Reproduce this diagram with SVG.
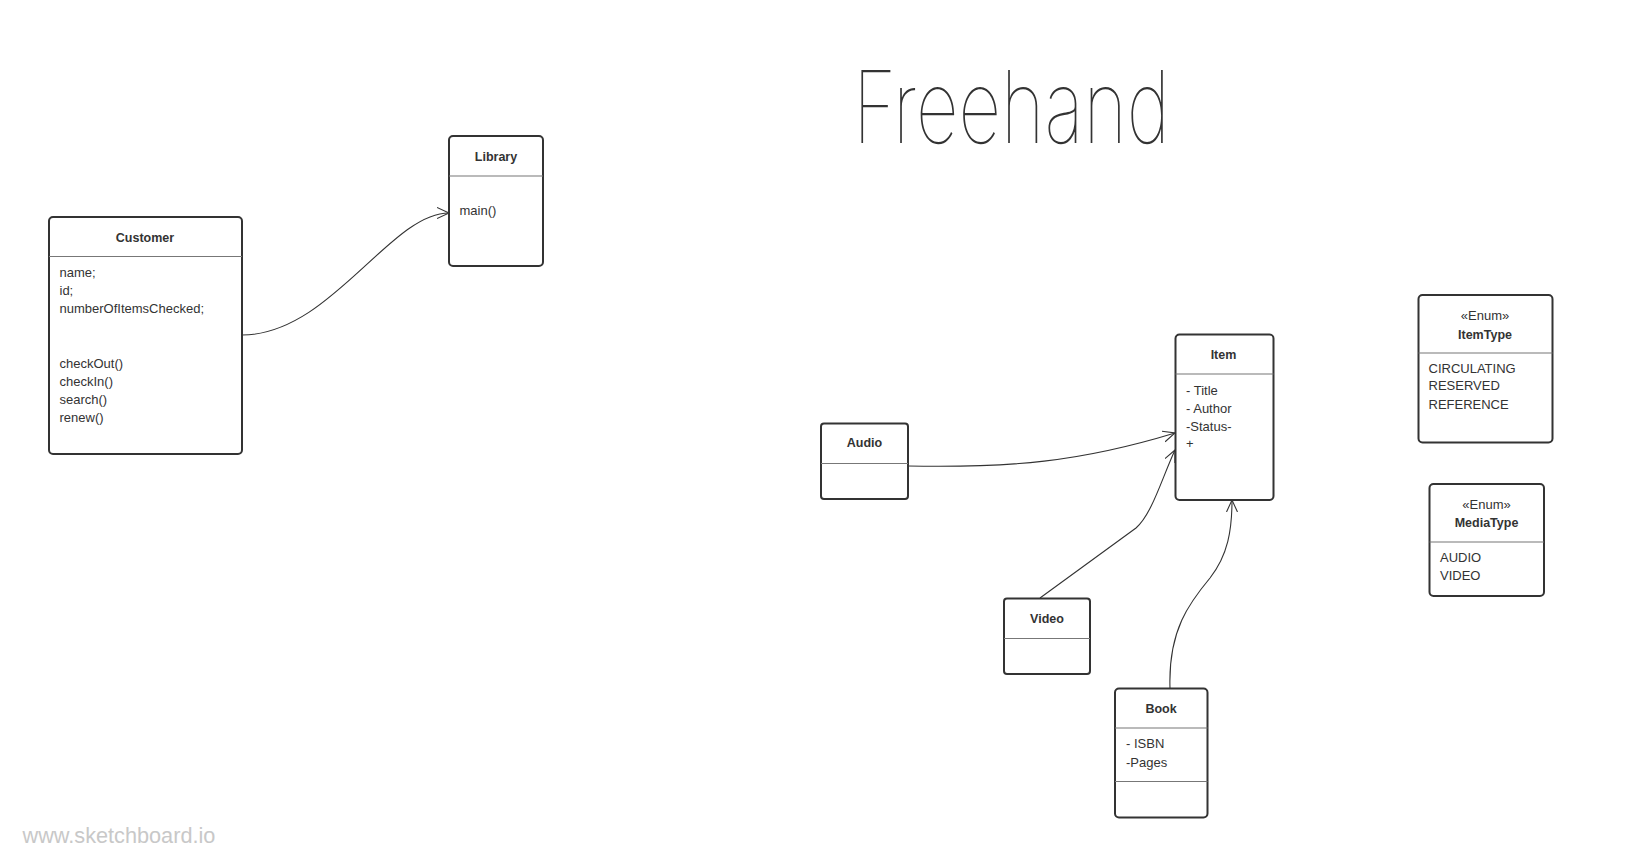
<svg xmlns="http://www.w3.org/2000/svg" width="1631" height="867" viewBox="0 0 1631 867">
<style>
.box{fill:#fff;stroke:#333;stroke-width:2}
.sep{stroke:#777;stroke-width:1.2}
.t{font-family:"Liberation Sans",Arial,sans-serif;font-size:13px;fill:#333}
.b{font-weight:bold;text-anchor:middle;font-size:12.5px}
.c{text-anchor:middle}
.conn{fill:none;stroke:#333;stroke-width:1.1}
</style>
<defs>
<marker id="open" markerUnits="userSpaceOnUse" markerWidth="14" markerHeight="14" refX="12" refY="6" orient="auto" viewBox="0 0 14 12">
<path d="M0,0.5 L12,6 L0,11.5" fill="none" stroke="#333" stroke-width="1.1"/>
</marker>
</defs>
<rect width="1631" height="867" fill="#fff"/>

<g id="freehand">
<text x="853" y="143" font-family="Inter,'DejaVu Sans',sans-serif" font-weight="100" font-size="100" fill="#333" textLength="317" lengthAdjust="spacingAndGlyphs">Freehand</text>
</g>

<g id="connectors">
<path class="conn" d="M242,335 C330,335 390,213 449,213" marker-end="url(#open)"/>
<path class="conn" d="M908,466 C1010,468 1080,462 1175,433" marker-end="url(#open)"/>
<path class="conn" d="M1040,598 L1136,528 C1152,514 1162,478 1175,450" marker-end="url(#open)"/>
<path class="conn" d="M1170,688 C1168,630 1190,602 1210,578 C1228,555 1232,530 1232,500" marker-end="url(#open)"/>
</g>

<g id="customer">
<rect class="box" x="49" y="217" width="193" height="237" rx="4"/>
<line class="sep" x1="49" y1="256.5" x2="242" y2="256.5"/>
<text class="t b" x="145" y="241.5">Customer</text>
<text class="t" x="59.5" y="277">name;</text>
<text class="t" x="59.5" y="295">id;</text>
<text class="t" x="59.5" y="313">numberOfItemsChecked;</text>
<text class="t" x="59.5" y="368">checkOut()</text>
<text class="t" x="59.5" y="386">checkIn()</text>
<text class="t" x="59.5" y="404">search()</text>
<text class="t" x="59.5" y="422">renew()</text>
</g>

<g id="library">
<rect class="box" x="449" y="136" width="94" height="130" rx="4"/>
<line class="sep" x1="449" y1="176" x2="543" y2="176"/>
<text class="t b" x="496" y="160.5">Library</text>
<text class="t" x="459.5" y="215">main()</text>
</g>

<g id="audio">
<rect class="box" x="821" y="423.5" width="87" height="75.5" rx="3"/>
<line class="sep" x1="821" y1="463.5" x2="908" y2="463.5"/>
<text class="t b" x="864.5" y="447">Audio</text>
</g>

<g id="item">
<rect class="box" x="1175.5" y="334.5" width="98" height="165.5" rx="4"/>
<line class="sep" x1="1175.5" y1="374" x2="1273.5" y2="374"/>
<text class="t b" x="1223.5" y="359">Item</text>
<text class="t" x="1186" y="395">- Title</text>
<text class="t" x="1186" y="413">- Author</text>
<text class="t" x="1186" y="430.5">-Status-</text>
<text class="t" x="1186" y="448">+</text>
</g>

<g id="video">
<rect class="box" x="1004" y="598.5" width="86" height="75.5" rx="3"/>
<line class="sep" x1="1004" y1="638.5" x2="1090" y2="638.5"/>
<text class="t b" x="1047" y="623">Video</text>
</g>

<g id="book">
<rect class="box" x="1115" y="688.5" width="92.5" height="129" rx="4"/>
<line class="sep" x1="1115" y1="728" x2="1207.5" y2="728"/>
<line class="sep" x1="1115" y1="781.5" x2="1207.5" y2="781.5"/>
<text class="t b" x="1161" y="712.5">Book</text>
<text class="t" x="1126" y="748">- ISBN</text>
<text class="t" x="1126" y="766.5">-Pages</text>
</g>

<g id="itemtype">
<rect class="box" x="1418.5" y="295" width="134" height="147.5" rx="4"/>
<line class="sep" x1="1418.5" y1="353" x2="1552.5" y2="353"/>
<text class="t c" x="1485" y="320">«Enum»</text>
<text class="t b" x="1485" y="338.5">ItemType</text>
<text class="t" x="1428.5" y="372.5">CIRCULATING</text>
<text class="t" x="1428.5" y="390">RESERVED</text>
<text class="t" x="1428.5" y="408.5">REFERENCE</text>
</g>

<g id="mediatype">
<rect class="box" x="1429.5" y="484" width="114.5" height="112" rx="4"/>
<line class="sep" x1="1429.5" y1="542" x2="1544" y2="542"/>
<text class="t c" x="1486.5" y="508.5">«Enum»</text>
<text class="t b" x="1486.5" y="526.5">MediaType</text>
<text class="t" x="1440" y="561.5">AUDIO</text>
<text class="t" x="1440" y="580">VIDEO</text>
</g>

<text x="22.5" y="842.5" font-family="'Liberation Sans',Arial,sans-serif" font-size="21.7" fill="#c8c8c8">www.sketchboard.io</text>
</svg>
